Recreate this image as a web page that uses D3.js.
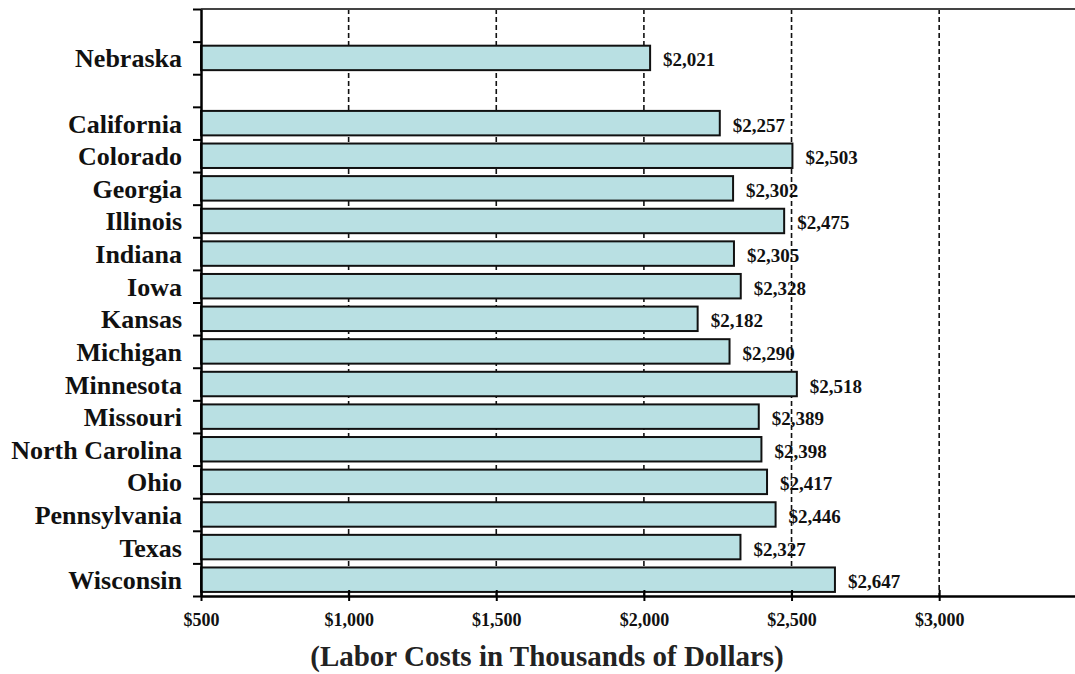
<!DOCTYPE html>
<html>
<head>
<meta charset="utf-8">
<script src="https://cdn.jsdelivr.net/npm/d3@7"></script>
<style>
  html, body { margin: 0; padding: 0; background: #fff; }
  svg { display: block; }
  text { font-family: "Liberation Serif", "Times New Roman", serif; font-weight: bold; }
</style>
</head>
<body>
<svg id="chart" width="1075" height="674"></svg>
<script>
// Benchmark state shown on its own above the comparison group
const benchmarkState = "Nebraska";
const benchmarkCost = 2021;

// Comparison states and their labor costs (thousands of dollars)
const states = ["California", "Colorado", "Georgia", "Illinois", "Indiana", "Iowa", "Kansas",
  "Michigan", "Minnesota", "Missouri", "North Carolina", "Ohio", "Pennsylvania", "Texas", "Wisconsin"];
const costs = [2257, 2503, 2302, 2475, 2305, 2328, 2182, 2290, 2518, 2389, 2398, 2417, 2446, 2327, 2647];

const xTicks = [500, 1000, 1500, 2000, 2500, 3000];
const axisTitle = "(Labor Costs in Thousands of Dollars)";

// Row layout: blank slot, benchmark, blank slot, then the comparison states
const rows = [{ key: "__gap0" }, { key: benchmarkState, label: benchmarkState, value: benchmarkCost }, { key: "__gap1" }]
  .concat(states.map((s, i) => ({ key: s, label: s, value: costs[i] })));

const svg = d3.select("#chart");
const plot = { left: 201, right: 1075, top: 9, bottom: 596 };

const x = d3.scaleLinear().domain([500, 3460]).range([plot.left, plot.right]);
const y = d3.scaleBand()
  .domain(rows.map(r => r.key))
  .range([plot.top, plot.bottom])
  .paddingInner(0.25)
  .paddingOuter(0.125);
// slot boundaries for the category tick marks
const slot = d3.scaleLinear().domain([0, rows.length]).range([plot.top, plot.bottom]);

// dashed vertical gridlines
svg.append("g")
  .selectAll("line")
  .data(xTicks.filter(t => t > 500))
  .join("line")
  .attr("x1", d => x(d)).attr("x2", d => x(d))
  .attr("y1", plot.top).attr("y2", plot.bottom)
  .attr("stroke", "#111")
  .attr("stroke-width", 1.6)
  .attr("stroke-dasharray", "5,3");

// top border
svg.append("line")
  .attr("x1", plot.left).attr("x2", plot.right)
  .attr("y1", plot.top).attr("y2", plot.top)
  .attr("stroke", "#444").attr("stroke-width", 2);

const data = rows.filter(r => r.value != null);

// bars
svg.append("g")
  .selectAll("rect")
  .data(data)
  .join("rect")
  .attr("x", x(500))
  .attr("y", d => y(d.key))
  .attr("width", d => x(d.value) - x(500))
  .attr("height", y.bandwidth())
  .attr("fill", "#b9e0e3")
  .attr("stroke", "#111")
  .attr("stroke-width", 2);

// value labels
svg.append("g")
  .selectAll("text")
  .data(data)
  .join("text")
  .attr("x", d => x(d.value) + 13)
  .attr("y", d => y(d.key) + y.bandwidth() / 2 + 8.5)
  .attr("font-size", 19)
  .attr("fill", "#111")
  .text(d => d3.format("$,")(d.value));

// category labels
svg.append("g")
  .selectAll("text")
  .data(data)
  .join("text")
  .attr("x", 182)
  .attr("y", d => y(d.key) + y.bandwidth() / 2 + 9.5)
  .attr("text-anchor", "end")
  .attr("font-size", 26)
  .attr("fill", "#111")
  .text(d => d.label);

// left axis with ticks at slot boundaries
const yAxis = svg.append("g")
  .attr("transform", `translate(${plot.left},0)`)
  .call(d3.axisLeft(slot).tickValues(d3.range(rows.length + 1)).tickFormat("").tickSize(8).tickSizeOuter(0));
yAxis.select(".domain").attr("stroke", "#000").attr("stroke-width", 2.5);
yAxis.selectAll(".tick line").attr("stroke", "#000").attr("stroke-width", 2);

// bottom axis, ticks crossing the axis line
const xAxis = svg.append("g")
  .attr("transform", `translate(0,${plot.bottom})`)
  .call(d3.axisBottom(x).tickValues(xTicks).tickFormat(d3.format("$,")).tickSize(5).tickSizeOuter(0).tickPadding(12));
xAxis.select(".domain").attr("stroke", "#000").attr("stroke-width", 2.5);
xAxis.selectAll(".tick line").attr("y1", -6).attr("y2", 5).attr("stroke", "#000").attr("stroke-width", 2);
xAxis.selectAll(".tick text")
  .attr("font-size", 18)
  .attr("font-family", "'Liberation Serif', 'Times New Roman', serif")
  .attr("font-weight", "bold")
  .attr("fill", "#111");

// axis title
svg.append("text")
  .attr("x", 547)
  .attr("y", 666)
  .attr("text-anchor", "middle")
  .attr("font-size", 29)
  .attr("fill", "#222")
  .text(axisTitle);
</script>
</body>
</html>
